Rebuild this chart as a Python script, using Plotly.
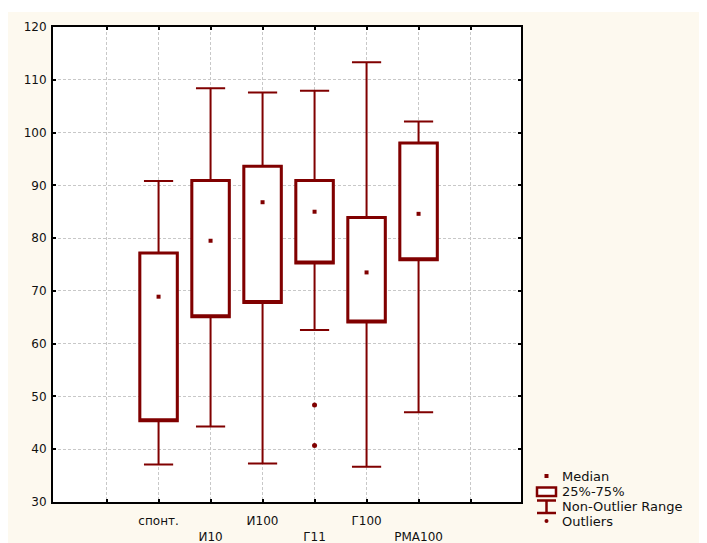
import plotly.graph_objects as go

# ---- data ----
categories = ["спонт.", "И10", "И100", "Г11", "Г100", "РМА100"]
positions = [1, 2, 3, 4, 5, 6]
q1 = [45.4, 65.1, 67.8, 75.3, 64.1, 75.9]
median = [68.9, 79.5, 86.8, 85.0, 73.5, 84.6]
q3 = [77.2, 90.9, 93.6, 90.9, 83.9, 98.0]
lower_whisker = [37.1, 44.3, 37.3, 62.6, 36.7, 47.0]
upper_whisker = [90.8, 108.4, 107.6, 107.9, 113.3, 102.1]
outlier_pos = [4, 4]
outlier_val = [48.4, 40.7]
y_ticks = [30, 40, 50, 60, 70, 80, 90, 100, 110, 120]
legend_labels = ["Median", "25%-75%", "Non-Outlier Range", "Outliers"]

RED = "#800000"
CREAM = "#FDF9EF"
FONT = "DejaVu Sans"

OFF = 8  # page body margin
W, H = 707 - OFF, 543 - OFF
ML, MT = 53 - OFF, 27 - OFF
MR, MB = W - (521 - OFF), H - (502 - OFF)
PW, PH = W - ML - MR, H - MT - MB


def px(x):  # page pixel -> paper
    return (x - OFF - ML) / PW


def py(y):
    return (H - MB - (y - OFF)) / PH


fig = go.Figure()

# whiskers + caps (thin lines)
fig.add_trace(go.Box(
    x=positions, q1=q1, median=q1, q3=q3,
    lowerfence=lower_whisker, upperfence=upper_whisker,
    width=0.72, whiskerwidth=0.78,
    line=dict(color=RED, width=2), fillcolor="white",
    boxpoints=False, showlegend=False, hoverinfo="skip",
))
# boxes (thicker outline)
fig.add_trace(go.Box(
    x=positions, q1=q1, median=q1, q3=q3,
    lowerfence=q1, upperfence=q3,
    width=0.72, whiskerwidth=0,
    line=dict(color=RED, width=3), fillcolor="white",
    boxpoints=False, showlegend=False, hoverinfo="skip",
))
# medians
fig.add_trace(go.Scatter(
    x=positions, y=median, mode="markers",
    marker=dict(symbol="square", size=4, color=RED),
    showlegend=False,
))
# outliers
fig.add_trace(go.Scatter(
    x=outlier_pos, y=outlier_val, mode="markers",
    marker=dict(symbol="circle", size=5, color=RED),
    showlegend=False,
))

ticktext = [""]
for i, c in enumerate(categories):
    ticktext.append(c if i % 2 == 0 else "<br>" + c)
ticktext.append("")

shapes = [
    # white strip at the top of the page
    dict(type="rect", xref="paper", yref="paper",
         x0=px(0), x1=px(720), y0=py(12), y1=py(0),
         fillcolor="white", line=dict(width=0), layer="below"),
    dict(type="rect", xref="paper", yref="paper",
         x0=0, x1=1, y0=0, y1=1,
         fillcolor="white", line=dict(width=0), layer="below"),
]

# legend glyphs
lx0, lx1, lxc = 537, 556, 546.5
shapes += [
    dict(type="rect", xref="paper", yref="paper",
         x0=px(lxc - 2), x1=px(lxc + 2), y0=py(478), y1=py(474),
         fillcolor=RED, line=dict(width=0)),
    dict(type="rect", xref="paper", yref="paper",
         x0=px(lx0), x1=px(lx1), y0=py(496), y1=py(487.5),
         fillcolor="white", line=dict(color=RED, width=2.5)),
    dict(type="line", xref="paper", yref="paper",
         x0=px(lxc), x1=px(lxc), y0=py(513), y1=py(500.5),
         line=dict(color=RED, width=2.5)),
    dict(type="line", xref="paper", yref="paper",
         x0=px(lx0), x1=px(lx1), y0=py(500.5), y1=py(500.5),
         line=dict(color=RED, width=2.5)),
    dict(type="line", xref="paper", yref="paper",
         x0=px(lx0), x1=px(lx1), y0=py(513), y1=py(513),
         line=dict(color=RED, width=2.5)),
    dict(type="circle", xref="paper", yref="paper",
         x0=px(lxc - 2), x1=px(lxc + 2), y0=py(523), y1=py(519),
         fillcolor=RED, line=dict(width=0)),
]

annotations = []
for lab, yy in zip(legend_labels, [476, 491.5, 506.5, 521]):
    annotations.append(dict(
        text=lab, xref="paper", yref="paper", x=px(560), y=py(yy),
        xanchor="left", yanchor="middle", showarrow=False,
        font=dict(family=FONT, size=13, color="#111"),
    ))

fig.update_layout(
    width=W, height=H,
    margin=dict(l=ML, r=MR, t=MT, b=MB, pad=0, autoexpand=False),
    paper_bgcolor=CREAM, plot_bgcolor="rgba(0,0,0,0)",
    boxmode="overlay", showlegend=False,
    font=dict(family=FONT, size=12, color="#111"),
    shapes=shapes, annotations=annotations,
)
fig.update_xaxes(
    range=[-1.03, 7.97], tickmode="array", tickvals=list(range(8)), ticktext=ticktext,
    showgrid=True, gridcolor="#C8C8C8", griddash="3px,2px", gridwidth=1,
    showline=True, linecolor="black", linewidth=2, mirror="ticks",
    ticks="inside", ticklen=3, tickcolor="black", tickwidth=2,
    ticklabelstandoff=7, zeroline=False, automargin=False,
    tickfont=dict(family=FONT, size=12, color="#111"),
)
fig.update_yaxes(
    range=[30, 120], tickmode="array", tickvals=y_ticks,
    showgrid=True, gridcolor="#C8C8C8", griddash="3px,2px", gridwidth=1,
    showline=True, linecolor="black", linewidth=2, mirror="ticks",
    ticks="inside", ticklen=3, tickcolor="black", tickwidth=2,
    ticklabelstandoff=2, zeroline=False, automargin=False,
    tickfont=dict(family=FONT, size=12, color="#111"),
)

fig.write_html("out.html")
